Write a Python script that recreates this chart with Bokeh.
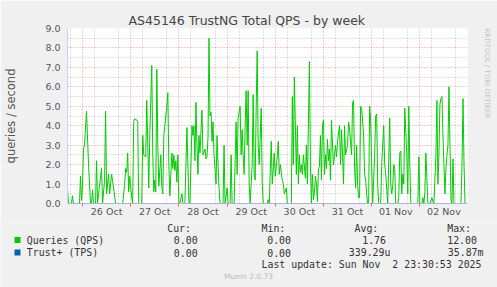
from bokeh.plotting import figure
from bokeh.layouts import column, row
from bokeh.models import Range1d, FixedTicker, NumeralTickFormatter, Title
from bokeh.core.properties import value
from bokeh.embed import file_html
from bokeh.resources import INLINE

# ---------------- data (hours since 26 Oct 00:00) ----------------
hours = [
    -7.5, -7.0, -5.5, -5.0, -4.5, -1.5, -1.0, -0.5,
    0.0, 0.5, 1.0, 2.0, 3.0, 4.0, 4.5, 5.0, 5.5, 6.5, 7.0, 7.5, 8.0, 9.5, 10.0, 11.0, 11.5,
    12.0, 13.0, 13.5, 14.5, 15.5, 16.5, 20.0, 21.0, 21.5, 22.0, 22.5, 23.0, 23.5,
    24.5, 25.0, 25.5, 26.0, 27.0, 27.5, 28.0, 29.5, 30.0, 30.5, 31.5, 32.0, 33.0, 33.5, 34.5, 35.0, 35.5,
    36.0, 36.5, 37.0, 37.5, 38.0, 39.0, 39.5, 40.0, 40.5, 42.0, 42.5, 43.0, 43.5, 44.5, 45.0, 45.5, 46.0, 46.5, 47.0, 47.5,
    48.0, 48.5, 49.5, 50.0, 51.0, 52.0, 53.0, 53.5, 54.5, 55.0, 55.5, 56.0, 56.5, 57.0, 57.5, 58.0, 58.5, 59.5,
    60.0, 61.0, 61.5, 62.0, 62.5, 63.0, 63.5, 64.0, 64.5, 65.0, 65.5, 66.5, 67.0, 67.5, 68.0, 68.5, 70.0, 70.5, 71.0,
    72.0, 72.5, 73.5, 74.0, 74.5, 75.5, 76.5, 77.0, 77.5, 78.5, 79.0, 79.5, 80.0, 80.5, 81.0, 81.5, 82.0, 82.5, 83.0, 83.5,
    84.5, 85.0, 85.5, 86.0, 86.5, 87.0, 87.5, 88.0, 89.0, 89.5, 90.0, 92.0, 92.5, 93.0, 94.0, 94.5, 95.5,
    96.0, 97.0, 97.5, 98.0, 98.5, 99.5, 100.0, 100.5, 101.5, 102.0, 104.0, 104.5, 105.0, 105.5, 106.5, 107.0, 107.5,
    108.0, 108.5, 109.0, 109.5, 110.0, 111.0, 111.5, 112.0, 113.0, 113.5, 114.0, 114.5, 115.0, 115.5, 116.0, 116.5, 117.0, 117.5, 118.0, 118.5, 119.0, 119.5,
    120.0, 120.5, 121.0, 121.5, 122.0, 122.5, 123.0, 123.5, 124.0, 124.5, 125.0, 125.5, 126.0, 126.5, 127.0, 128.0, 128.5, 129.0, 129.5, 130.0, 130.5, 131.0,
    132.0, 132.5, 133.0, 134.0, 134.5, 135.0, 135.5, 136.0, 136.5, 137.0, 137.5, 138.0, 138.5, 139.0, 140.0, 140.5, 141.0, 141.5, 142.0, 142.5, 143.0, 143.5,
    144.0, 144.5, 145.5, 146.0, 146.5, 147.0, 147.5, 148.5, 149.0, 150.0, 150.5, 151.0, 152.0, 153.0, 153.5, 154.0, 154.5, 155.0, 155.5,
    156.0, 157.0, 157.5, 158.0, 158.5, 159.0, 159.5, 160.0, 160.5, 161.5, 162.0, 162.5, 163.0, 163.5, 167.0,
    167.5, 168.0, 169.0, 169.5, 170.0, 170.5, 171.0, 172.0, 173.0, 174.0, 174.5, 175.0, 176.0, 176.5, 177.0, 177.5, 178.0, 178.5, 179.0,
    179.5, 180.0, 180.5, 181.0, 181.5, 182.0, 182.5, 183.0, 183.5, 184.0, 184.5, 185.0, 188.5, 189.0, 189.5, 190.0, 190.5, 191.5,
]
qps = [
    0.8, 0.0, 0.0, 0.4, 0.0, 0.0, 1.4, 0.15,
    0.9, 2.8, 3.0, 4.75, 2.0, 0.0, 0.0, 0.7, 0.0, 0.0, 2.2, 0.0, 0.5, 1.8, 0.0, 1.2, 4.75,
    0.5, 1.5, 0.5, 1.5, 0.8, 0.0, 0.0, 1.0, 1.8, 1.6, 2.6, 0.6, 1.4,
    0.3, 0.0, 4.2, 4.35, 4.3, 4.2, 0.0, 0.0, 3.5, 2.5, 2.4, 5.3, 0.8, 3.5, 7.1, 2.5, 0.6,
    1.2, 0.6, 6.9, 3.0, 0.9, 2.5, 0.9, 0.5, 3.5, 5.0, 5.7, 2.0, 0.4, 2.6, 1.8, 2.5, 1.7, 2.2, 1.1, 2.5,
    0.0, 0.0, 0.5, 0.0, 0.0, 3.9, 0.0, 0.0, 4.0, 3.5, 4.0, 2.2, 5.2, 3.0, 1.5, 3.5, 2.6, 4.8,
    2.5, 2.8, 2.3, 2.4, 3.4, 8.5, 4.5, 4.7, 3.2, 4.2, 2.5, 1.0, 3.5, 2.0, 0.8, 0.0, 0.0, 3.0, 0.0,
    0.8, 0.0, 0.0, 2.5, 0.0, 0.0, 4.2, 1.5, 4.4, 5.0, 2.5, 3.8, 2.5, 1.5, 4.0, 5.8, 3.0, 5.8, 1.0, 0.0,
    2.0, 5.6, 1.5, 1.2, 5.0, 7.85, 3.0, 2.0, 4.9, 1.0, 0.0, 0.0, 0.2, 0.0, 3.2, 1.0, 2.6,
    1.4, 2.4, 3.2, 1.5, 2.0, 1.2, 1.0, 0.5, 0.8, 0.0, 0.0, 5.5, 2.0, 6.5, 1.5, 4.0, 1.0,
    2.5, 1.6, 2.0, 1.5, 2.5, 1.3, 3.0, 1.0, 7.3, 2.0, 0.0, 1.5, 0.2, 0.6, 1.4, 1.0, 0.1, 1.8, 1.9, 3.5, 1.2, 4.0,
    4.3, 1.5, 2.5, 1.8, 3.3, 2.2, 2.8, 1.2, 4.3, 3.0, 2.0, 2.5, 3.0, 2.4, 3.2, 4.0, 2.0, 3.8, 2.5, 1.0, 4.0, 2.5,
    3.0, 4.2, 3.8, 2.5, 5.2, 5.3, 1.8, 0.8, 3.0, 1.0, 0.3, 0.3, 5.0, 4.9, 3.5, 1.5, 1.2, 0.5, 0.0, 0.0, 5.0, 4.3,
    2.0, 0.0, 2.5, 4.5, 4.6, 1.0, 0.0, 0.0, 2.0, 4.0, 2.0, 1.5, 0.0, 4.4, 1.0, 0.5, 0.9, 2.0, 1.8,
    0.0, 0.0, 0.3, 2.6, 2.7, 0.5, 1.5, 1.0, 4.9, 2.5, 0.5, 5.0, 2.0, 0.0, 0.0,
    2.4, 0.0, 0.0, 0.3, 0.0, 0.6, 2.6, 0.0, 0.0, 0.3, 0.1, 0.0, 2.5, 5.3, 1.0, 2.5, 5.1, 5.4, 5.5,
    3.5, 2.0, 0.5, 1.8, 2.5, 3.0, 6.0, 3.0, 0.2, 0.0, 2.3, 0.0, 0.0, 2.0, 5.4, 2.0, 0.0, 0.0,
]
assert len(hours) == len(qps)

tps_hours = [-7.5, 191.5]
tps = [0.0, 0.0]

day_ticks = [12, 36, 60, 84, 108, 132, 156, 180]
day_labels = ["26 Oct", "27 Oct", "28 Oct", "29 Oct", "30 Oct", "31 Oct", "01 Nov", "02 Nov"]
midnights = [0, 24, 48, 72, 96, 120, 144, 168]
six_hours = [-6, 6, 18, 30, 42, 54, 66, 78, 90, 102, 114, 126, 138, 150, 162, 174, 186]
y_ticks = [0, 1, 2, 3, 4, 5, 6, 7, 8, 9]
y_minor = [0.5, 1.5, 2.5, 3.5, 4.5, 5.5, 6.5, 7.5, 8.5]

series_names = ["Queries (QPS)", "Trust+ (TPS)"]
series_colors = ["#00CC00", "#0066B3"]
col_headers = ["Cur:", "Min:", "Avg:", "Max:"]
cur_vals = ["0.00", "0.00"]
min_vals = ["0.00", "0.00"]
avg_vals = ["1.76", "339.29u"]
max_vals = ["12.00", "35.87m"]
last_update = "Last update: Sun Nov \u00a02 23:30:53 2025"
footer = "Munin 2.0.73"
title_text = "AS45146 TrustNG Total QPS - by week"
side_text = "RRDTOOL / TOBI OETIKER"

# ---------------- main chart ----------------
W = 497
L, R, T, B = 67, 467, 28, 203
H1 = 222
p = figure(width=W, height=H1, output_backend="svg", toolbar_location=None,
           x_range=Range1d(-7.47, 191.73), y_range=Range1d(0, 9.0),
           min_border_left=L, min_border_right=W - R, min_border_top=T,
           min_border_bottom=H1 - B)
p.border_fill_color = "#F0F0F0"
p.background_fill_color = "white"
p.outline_line_color = None

p.title.text = title_text
p.title.align = "left"
p.title.offset = 61
p.title.standoff = 2
p.title.text_font = "DejaVu Sans"
p.title.text_font_style = "normal"
p.title.text_font_size = "12.5px"
p.title.text_color = "#444444"

# spacer panel, then the vertical credit text further right
p.add_layout(Title(text=" ", standoff=12, text_font_size="1px",
                   text_color="#F0F0F0"), "right")
p.add_layout(Title(text=side_text, align="left", standoff=0,
                   text_font="DejaVu Sans", text_font_style="normal",
                   text_font_size="7px", text_color="#c4c4c4"), "right")

# grids
p.xgrid.ticker = FixedTicker(ticks=midnights, minor_ticks=six_hours)
p.ygrid.ticker = FixedTicker(ticks=y_ticks, minor_ticks=y_minor)
for g in (p.xgrid, p.ygrid):
    g.grid_line_color = "#e04040"
    g.grid_line_alpha = 0.55
    g.grid_line_dash = "1 2"
    g.minor_grid_line_color = "#909090"
    g.minor_grid_line_alpha = 0.55
    g.minor_grid_line_dash = "1 2"

# axes
xa = p.xaxis[0]
xa.ticker = FixedTicker(ticks=day_ticks, minor_ticks=midnights)
xa.major_label_overrides = {t: s for t, s in zip(day_ticks, day_labels)}
xa.major_tick_line_color = None
xa.major_tick_out = 0
xa.major_tick_in = 0
xa.minor_tick_line_color = "#ff6060"
xa.minor_tick_out = 3
xa.minor_tick_in = 0
xa.axis_line_color = "#a8b2e4"
xa.major_label_standoff = -1
xa.major_label_text_font = "DejaVu Sans"
xa.major_label_text_font_size = "9.5px"
xa.major_label_text_color = "#555555"

ya = p.yaxis[0]
ya.ticker = FixedTicker(ticks=y_ticks)
ya.formatter = NumeralTickFormatter(format="0.0")
ya.major_tick_line_color = None
ya.major_tick_out = 0
ya.major_tick_in = 0
ya.minor_tick_line_color = None
ya.axis_line_color = "#c8d0f4"
ya.major_label_standoff = 7
ya.major_label_text_font = "DejaVu Sans"
ya.major_label_text_font_size = "9.5px"
ya.major_label_text_color = "#555555"
ya.axis_label = "queries / second"
ya.axis_label_text_font = "DejaVu Sans"
ya.axis_label_text_font_style = "normal"
ya.axis_label_text_font_size = "11.5px"
ya.axis_label_text_color = "#555555"
ya.axis_label_standoff = 24

p.line(tps_hours, tps, line_color=series_colors[1], line_width=1)
p.line(hours, qps, line_color=series_colors[0], line_width=1)

# ---------------- legend panel (image-pixel coordinates) ----------------
H2 = 287 - H1
q = figure(width=W, height=H2, output_backend="svg", toolbar_location=None,
           x_range=Range1d(0, W), y_range=Range1d(287, H1),
           x_axis_location=None, y_axis_location=None,
           min_border_left=0, min_border_right=0, min_border_top=0, min_border_bottom=0)
q.grid.visible = False
q.outline_line_color = None
q.border_fill_color = "#F0F0F0"
q.background_fill_color = "#F0F0F0"

mono = value("DejaVu Sans Mono")
fs = value("9.9px")
tc = "#333333"

head_x = [166.7, 261, 354, 446.7]
q.text(x=head_x, y=[228] * 4, text=col_headers, text_font=mono, text_font_size=fs,
       text_color=tc, text_baseline="middle", text_align="left")

row_y = [239.5, 252]
q.quad(left=[14, 14], right=[20, 20], top=[y - 3 for y in row_y], bottom=[y + 3 for y in row_y],
       fill_color=series_colors, line_color=None)
q.text(x=[26.3, 26.3], y=row_y, text=series_names, text_font=mono, text_font_size=fs,
       text_color=tc, text_baseline="middle", text_align="left")
q.text(x=[173.3, 173.3], y=row_y, text=cur_vals, text_font=mono, text_font_size=fs,
       text_color=tc, text_baseline="middle", text_align="left")
q.text(x=[266.7, 266.7], y=row_y, text=min_vals, text_font=mono, text_font_size=fs,
       text_color=tc, text_baseline="middle", text_align="left")
q.text(x=[361.7, 348.3], y=row_y, text=avg_vals, text_font=mono, text_font_size=fs,
       text_color=tc, text_baseline="middle", text_align="left")
q.text(x=[446.7, 447.3], y=row_y, text=max_vals, text_font=mono, text_font_size=fs,
       text_color=tc, text_baseline="middle", text_align="left")
q.text(x=[261], y=[264], text=[last_update], text_font=mono, text_font_size=fs,
       text_color=tc, text_baseline="middle", text_align="left")
q.text(x=[248], y=[276], text=[footer], text_font=value("DejaVu Sans"),
       text_font_size=value("7.5px"), text_color="#bbbbbb",
       text_baseline="middle", text_align="center")

# wrap the legend panel so its frame is not aligned with the chart frame
layout = column(p, row(q, spacing=0), spacing=0)
open("out.html", "w").write(file_html(layout, INLINE))
